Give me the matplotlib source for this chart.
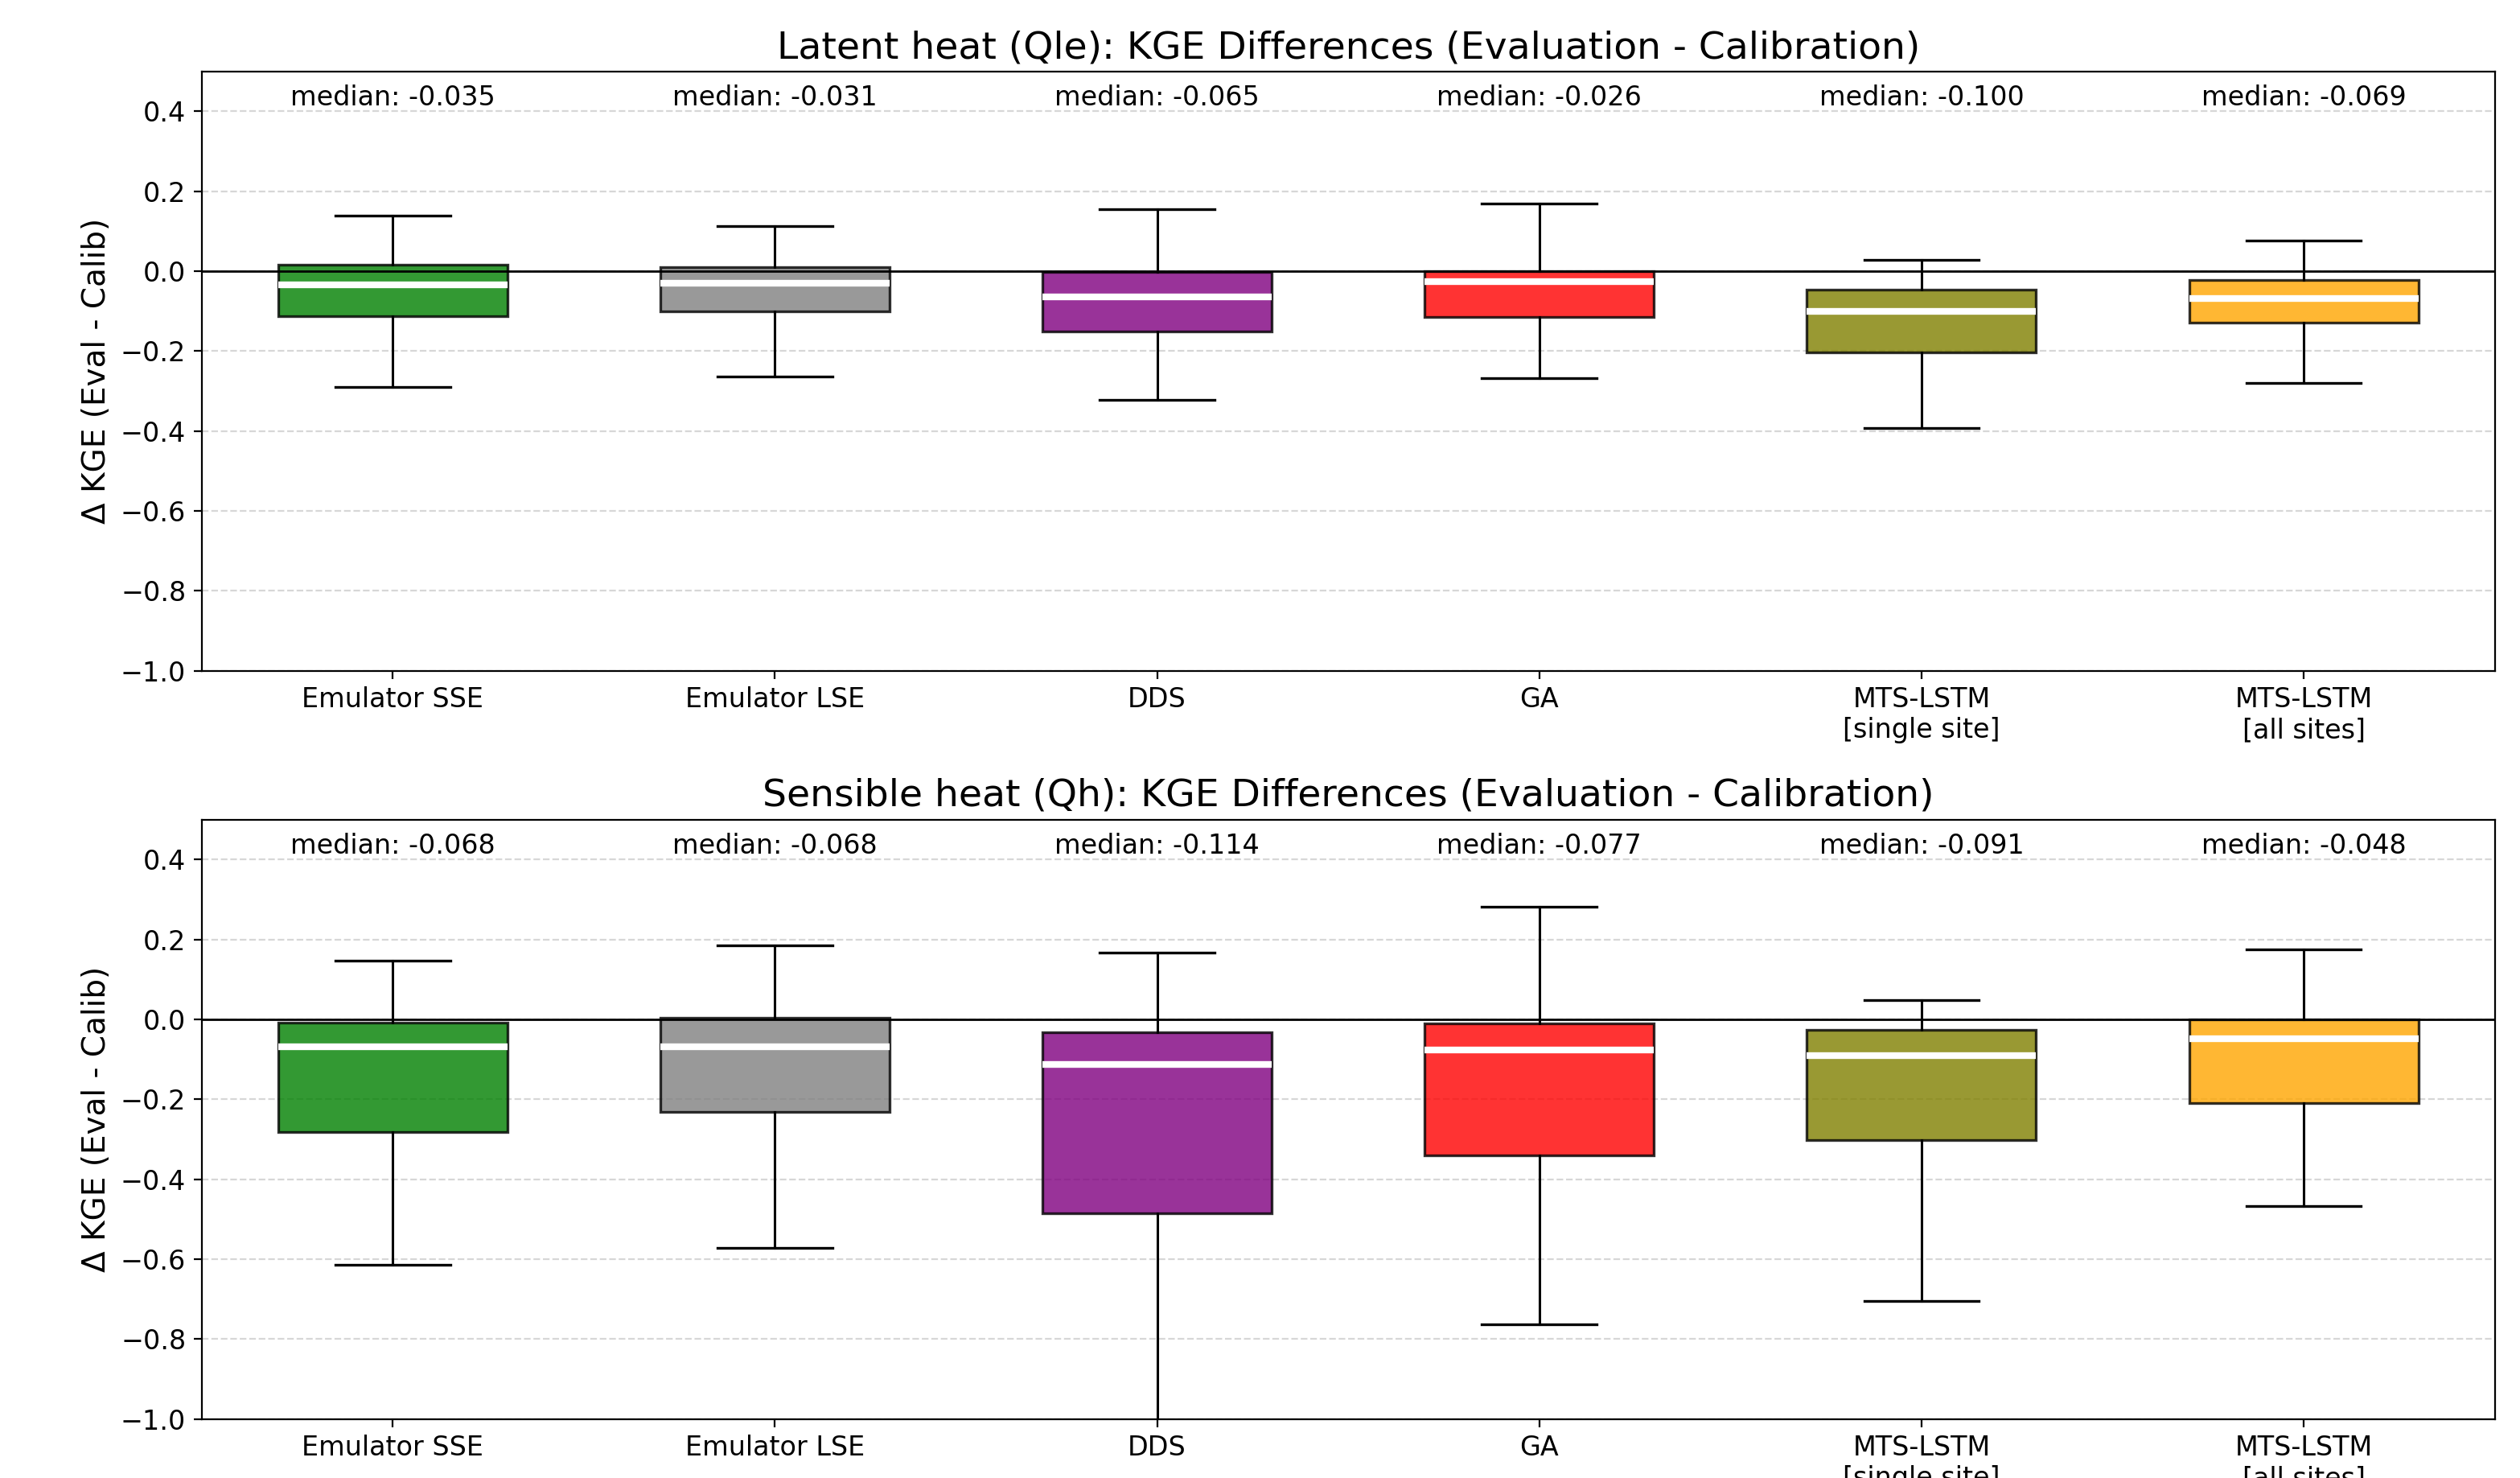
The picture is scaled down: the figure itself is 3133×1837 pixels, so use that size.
import matplotlib
matplotlib.use("Agg")
import matplotlib.pyplot as plt

# Methods compared and their box colours
methods = ["Emulator SSE", "Emulator LSE", "DDS", "GA",
           "MTS-LSTM\n[single site]", "MTS-LSTM\n[all sites]"]
colors = ["green", "gray", "purple", "red", "olive", "orange"]

# Latent heat (Qle): KGE eval - calib, box statistics per method
qle_med = [-0.035, -0.031, -0.065, -0.026, -0.100, -0.069]
qle_q1 = [-0.112, -0.100, -0.151, -0.114, -0.203, -0.128]
qle_q3 = [0.016, 0.011, -0.001, 0.001, -0.047, -0.022]
qle_lo = [-0.290, -0.264, -0.323, -0.268, -0.393, -0.280]
qle_hi = [0.139, 0.112, 0.155, 0.169, 0.029, 0.076]

# Sensible heat (Qh)
qh_med = [-0.068, -0.068, -0.114, -0.077, -0.091, -0.048]
qh_q1 = [-0.282, -0.232, -0.485, -0.340, -0.303, -0.210]
qh_q3 = [-0.008, 0.004, -0.033, -0.011, -0.026, -0.001]
qh_lo = [-0.614, -0.573, -1.050, -0.763, -0.704, -0.467]
qh_hi = [0.146, 0.185, 0.166, 0.281, 0.048, 0.175]


def build_stats(med, q1, q3, lo, hi):
    # Turn the summary lists into the dicts that Axes.bxp expects
    stats = []
    for i in range(len(med)):
        stats.append({"med": med[i], "q1": q1[i], "q3": q3[i],
                      "whislo": lo[i], "whishi": hi[i], "fliers": []})
    return stats


def draw_panel(ax, stats, title):
    bp = ax.bxp(stats, positions=range(1, len(stats) + 1), widths=0.6,
                patch_artist=True, showfliers=False,
                boxprops=dict(linewidth=1.2, edgecolor="black"),
                medianprops=dict(color="white", linewidth=3),
                whiskerprops=dict(color="black", linewidth=1.1),
                capprops=dict(color="black", linewidth=1.2))
    for patch, color in zip(bp["boxes"], colors):
        patch.set_facecolor(color)
        patch.set_alpha(0.8)

    ax.axhline(0, color="black", linewidth=1)
    ax.set_ylim(-1.0, 0.5)
    ax.set_xlim(0.5, len(stats) + 0.5)
    ax.set_xticks(range(1, len(stats) + 1))
    ax.set_xticklabels(methods, fontsize=12)
    ax.tick_params(axis="y", labelsize=12)
    ax.set_ylabel("Δ KGE (Eval - Calib)", fontsize=14)
    ax.set_title(title, fontsize=17)
    ax.grid(axis="y", linestyle="--", alpha=0.5)
    ax.set_axisbelow(True)

    # Median value written above each box
    for i, s in enumerate(stats):
        ax.text(i + 1, 0.4, f"median: {s['med']:.3f}", ha="center",
                va="bottom", fontsize=12)


def main():
    fig, axes = plt.subplots(2, 1, figsize=(15.665, 9.185), dpi=200)
    draw_panel(axes[0], build_stats(qle_med, qle_q1, qle_q3, qle_lo, qle_hi),
               "Latent heat (Qle): KGE Differences (Evaluation - Calibration)")
    draw_panel(axes[1], build_stats(qh_med, qh_q1, qh_q3, qh_lo, qh_hi),
               "Sensible heat (Qh): KGE Differences (Evaluation - Calibration)")
    fig.subplots_adjust(left=0.08, right=0.990, top=0.9517, bottom=0.04,
                        hspace=0.248)
    fig.savefig("out.png", dpi=200)


if __name__ == "__main__":
    main()
